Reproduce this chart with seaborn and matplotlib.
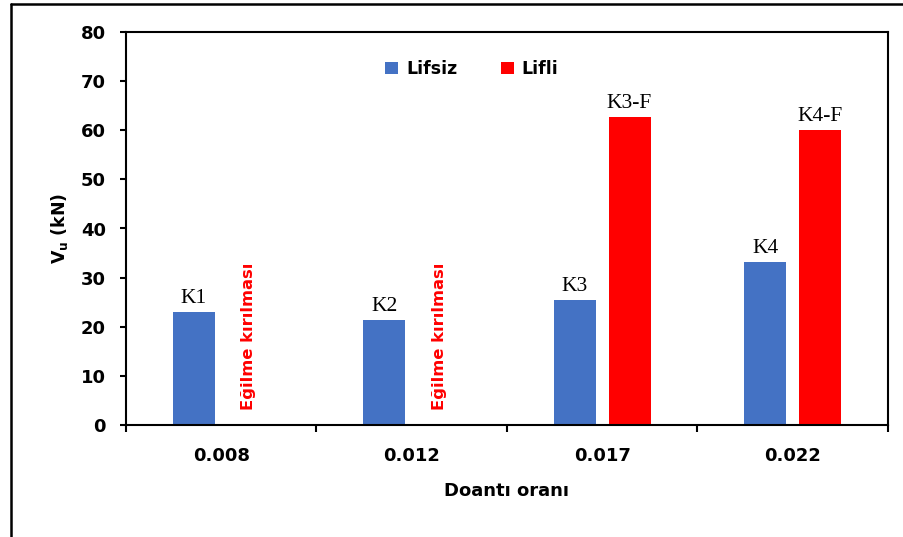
import numpy as np
import pandas as pd
import matplotlib
matplotlib.use("Agg")
import matplotlib.pyplot as plt
from matplotlib.lines import Line2D
from matplotlib.patches import Patch
import seaborn as sns

# Reinforcement ratios and shear capacities (kN)
ratios = ["0.008", "0.012", "0.017", "0.022"]
vu_lifsiz = [23.0, 21.4, 25.4, 33.2]
vu_lifli = [np.nan, np.nan, 62.6, 60.0]
names_lifsiz = ["K1", "K2", "K3", "K4"]
names_lifli = ["K1-F", "K2-F", "K3-F", "K4-F"]
series = ["Lifsiz", "Lifli"]
colors = ["#4472C4", "#FF0000"]
flexure_note = "Eğilme kırılması"
yticks = [0, 10, 20, 30, 40, 50, 60, 70, 80]

sns.set_style("white")
plt.rcParams["font.family"] = ["DejaVu Sans"]
plt.rcParams.update({"text.color": "black", "axes.labelcolor": "black",
                     "xtick.color": "black", "ytick.color": "black"})

rows = []
for r, v, n in zip(ratios, vu_lifsiz, names_lifsiz):
    rows.append({"oran": r, "seri": series[0], "Vu": v, "ad": n})
for r, v, n in zip(ratios, vu_lifli, names_lifli):
    rows.append({"oran": r, "seri": series[1], "Vu": v, "ad": n})
df = pd.DataFrame(rows)
df_bars = df.dropna(subset=["Vu"])

fig = plt.figure(figsize=(9.04, 5.37), dpi=100)
ax = fig.add_axes([126 / 904, 1 - 425 / 537, 762 / 904, 393 / 537])

group_width = 0.573
sns.barplot(data=df_bars, x="oran", y="Vu", hue="seri", order=ratios,
            hue_order=series, palette=colors, saturation=1,
            width=group_width, gap=0.23, linewidth=0, ax=ax, legend=False)

# specimen names above bars
for cont, s in zip(ax.containers, series):
    names = df_bars.loc[df_bars["seri"] == s, "ad"].tolist()
    ax.bar_label(cont, labels=names, padding=3, fontsize=15.5,
                 fontfamily="Liberation Serif", color="black")

# flexural failure notes in the empty fibre slots
offset = group_width / 4
for i, v in enumerate(vu_lifli):
    if np.isnan(v):
        ax.text(i + offset, 3, flexure_note, rotation=90, ha="center",
                va="bottom", color="#FF0000", fontsize=11.8, fontweight="bold")

ax.set_xlim(-0.5, 3.5)
ax.set_ylim(0, 80)
ax.set_yticks(yticks)
ax.set_yticklabels([str(t) for t in yticks], fontsize=13, fontweight="bold")
ax.set_xticks(range(len(ratios)))
ax.set_xticklabels(ratios, fontsize=13, fontweight="bold")
ax.set_xticks(np.arange(-0.5, len(ratios), 1.0), minor=True)
ax.tick_params(axis="x", which="major", length=0, pad=16)
ax.tick_params(axis="x", which="minor", length=5, width=1.5,
               direction="out", color="black", bottom=True)
ax.tick_params(axis="y", which="major", length=4.5, width=1.5,
               direction="out", color="black", left=True, pad=10)

for sp in ax.spines.values():
    sp.set_visible(True)
    sp.set_color("black")
    sp.set_linewidth(1.5)

ax.set_ylabel(r"$\mathbf{V_u}$ (kN)", fontsize=12.5, fontweight="bold")
ax.yaxis.set_label_coords(-0.073, 0.5)
ax.set_xlabel("Doantı oranı", fontsize=13, fontweight="bold")
ax.xaxis.set_label_coords(0.5, -0.145)
ax.xaxis.label.set_va("top")

handles = [Patch(facecolor=c, edgecolor="none") for c in colors]
ax.legend(handles, series, loc="center", bbox_to_anchor=(0.454, 0.906),
          ncol=2, frameon=False, handlelength=0.75, handleheight=0.75,
          handletextpad=0.45, columnspacing=2.5,
          prop={"weight": "bold", "size": 12.5})

# outer frame of the chart area
fig.add_artist(Line2D([11 / 904, 11 / 904], [0, 1 - 4 / 537],
                      transform=fig.transFigure, color="black", lw=1.8))
fig.add_artist(Line2D([11 / 904, 1], [1 - 4 / 537, 1 - 4 / 537],
                      transform=fig.transFigure, color="black", lw=1.8))

fig.savefig("out.png", dpi=100)
